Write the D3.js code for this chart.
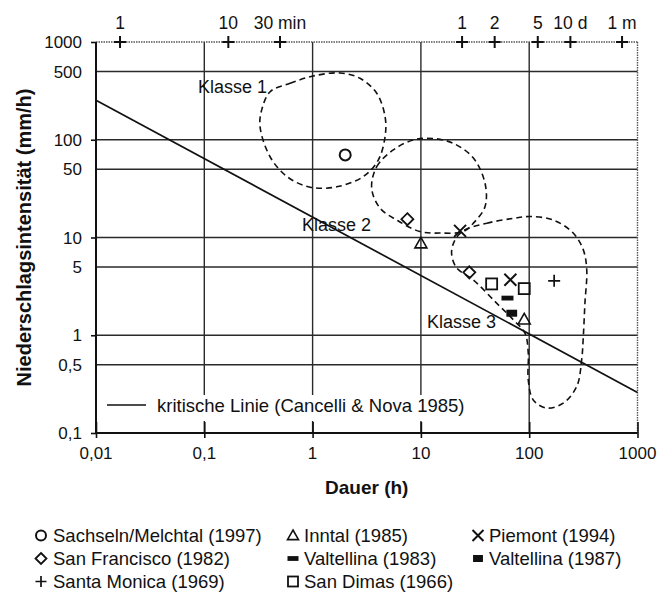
<!DOCTYPE html>
<html>
<head>
<meta charset="utf-8">
<script src="https://cdn.jsdelivr.net/npm/d3@7"></script>
<style>
body { margin: 0; background: #fff; }
svg { display: block; font-family: "Liberation Sans", Arial, sans-serif; }
</style>
</head>
<body>
<div class="chart"></div>
<script>
// Achsen
var xTicks = [0.01, 0.1, 1, 10, 100, 1000];
var xTickLabels = ["0,01", "0,1", "1", "10", "100", "1000"];
var yTicks = [0.1, 0.5, 1, 5, 10, 50, 100, 500, 1000];
var yTickLabels = ["0,1", "0,5", "1", "5", "10", "50", "100", "500", "1000"];
var yMajor = [0.1, 1, 10, 100, 1000];
var xGrid = [0.1, 1, 10, 100];
var yGrid = [0.5, 1, 5, 10, 50, 100, 500];
var topTicks = [1/60, 10/60, 0.5, 24, 48, 120, 240, 720];
var topLabels = ["1", "10", "30 min", "1", "2", "5", "10 d", "1 m"];

// kritische Linie (Cancelli & Nova 1985)
var critDuration = [0.01, 1000];
var critIntensity = [254, 0.26];

// Klassen: Dauer (h) / Intensität (mm/h)
var klasse1D = [0.405, 0.62, 1.01, 1.79, 2.74, 3.91, 4.67, 4.67, 4.04, 2.94, 1.67, 0.95, 0.58, 0.405, 0.327, 0.339];
var klasse1I = [310, 378, 449, 482, 425, 299, 172, 108, 62, 42, 33, 32.7, 42, 67, 136, 202];
var klasse2D = [3.51, 3.91, 5.56, 8.5, 12.9, 19.9, 30.5, 39.1, 39.1, 30.5, 24.6, 15, 9.8, 5.98, 4.19];
var klasse2I = [32, 53, 78.7, 99.5, 103, 92, 65, 35.9, 20.7, 14, 11.5, 11.1, 11.5, 15.1, 20];
var klasse3D = [24.6, 40.5, 71.3, 101.7, 167, 255, 316, 340, 327, 316, 305, 275, 206, 145, 109, 98, 98, 91.4, 71.3, 50, 30.5, 21.4, 19.2, 20.6];
var klasse3I = [11.7, 14, 15.7, 16.4, 15.1, 11.1, 7.47, 4.66, 2.13, 0.97, 0.56, 0.30, 0.202, 0.18, 0.218, 0.35, 0.66, 1.05, 1.44, 2.13, 3.68, 4.89, 6.9, 9.4];
var klasseNames = ["Klasse 1", "Klasse 2", "Klasse 3"];
var klasseLabelD = [0.38, 0.80, 11.4];
var klasseLabelI = [301, 11.7, 1.19];

// Ereignisse
var events = ["Sachseln/Melchtal (1997)", "San Francisco (1982)", "Santa Monica (1969)",
              "Inntal (1985)", "Valtellina (1983)", "San Dimas (1966)",
              "Piemont (1994)", "Valtellina (1987)"];
var eventSymbols = ["circle", "diamond", "plus", "triangle", "bar", "square", "cross", "block"];
var pointEvent = [0, 1, 1, 2, 3, 3, 4, 5, 5, 6, 6, 7];
var pointD = [2, 7.5, 28, 170, 10, 90, 63, 45, 90, 23, 67, 69];
var pointI = [70, 15.4, 4.4, 3.6, 8.7, 1.45, 2.4, 3.35, 3.0, 11.7, 3.7, 1.68];

// Canvas
var width = 657, height = 598;
var plot = {left: 96, right: 637.5, top: 42, bottom: 433};
var ink = "#111";

var svg = d3.select(".chart").append("svg")
            .attr("width", width)
            .attr("height", height);

var x = d3.scaleLog().domain([0.01, 1000]).range([plot.left, plot.right]);
var y = d3.scaleLog().domain([0.1, 1000]).range([plot.bottom, plot.top]);

// Gitter
svg.selectAll(".hgrid").data(yGrid).enter().append("line")
   .attr("x1", plot.left).attr("x2", plot.right)
   .attr("y1", function(d) { return y(d); }).attr("y2", function(d) { return y(d); })
   .attr("stroke", "#2a2a2a").attr("stroke-width", 1.4);
svg.selectAll(".vgrid").data(xGrid).enter().append("line")
   .attr("y1", plot.top).attr("y2", plot.bottom)
   .attr("x1", function(d) { return x(d); }).attr("x2", function(d) { return x(d); })
   .attr("stroke", "#2a2a2a").attr("stroke-width", 1.4);

// Rahmen oben/rechts gepunktet
svg.append("line").attr("x1", plot.left).attr("x2", plot.right).attr("y1", plot.top).attr("y2", plot.top)
   .attr("stroke", "#555").attr("stroke-width", 1.4).attr("stroke-dasharray", "1.5,1");
svg.append("line").attr("x1", plot.right).attr("x2", plot.right).attr("y1", plot.top).attr("y2", plot.bottom)
   .attr("stroke", "#555").attr("stroke-width", 1.4).attr("stroke-dasharray", "1.5,1");

// Achsen
var yAxis = d3.axisLeft(y).tickValues(yMajor).tickSize(5).tickFormat("");
var xAxis = d3.axisBottom(x).tickValues(xTicks).tickSize(5).tickFormat("");
svg.append("g").attr("transform", "translate(" + plot.left + ",0)").call(yAxis)
   .call(function(g) { g.select(".domain").attr("stroke", ink).attr("stroke-width", 2).attr("d", "M0," + plot.top + "V" + plot.bottom); g.selectAll("line").attr("stroke", ink).attr("stroke-width", 1.6); });
svg.append("g").attr("transform", "translate(0," + plot.bottom + ")").call(xAxis)
   .call(function(g) { g.select(".domain").attr("stroke", ink).attr("stroke-width", 2).attr("d", "M" + plot.left + ",0H" + plot.right); g.selectAll("line").attr("stroke", ink).attr("stroke-width", 1.6).attr("y1", -11); });

svg.selectAll(".ylab").data(yTicks).enter().append("text")
   .attr("x", 82).attr("y", function(d) { return y(d); }).attr("dy", "0.36em")
   .attr("text-anchor", "end").attr("font-size", 17).attr("fill", ink)
   .text(function(d, i) { return yTickLabels[i]; });
svg.selectAll(".xlab").data(xTicks).enter().append("text")
   .attr("x", function(d) { return x(d); }).attr("y", 459)
   .attr("text-anchor", "middle").attr("font-size", 17).attr("fill", ink)
   .text(function(d, i) { return xTickLabels[i]; });

// obere Zeitskala
svg.selectAll(".topmark").data(topTicks).enter().append("path")
   .attr("d", function(d) { var cx = x(d), cy = plot.top; return "M" + (cx - 6) + "," + cy + "H" + (cx + 6) + "M" + cx + "," + (cy - 6) + "V" + (cy + 6); })
   .attr("stroke", ink).attr("stroke-width", 2).attr("fill", "none");
svg.selectAll(".toplab").data(topTicks).enter().append("text")
   .attr("x", function(d) { return x(d); }).attr("y", 29)
   .attr("text-anchor", "middle").attr("font-size", 17.5).attr("fill", ink)
   .text(function(d, i) { return topLabels[i]; });

// Achsentitel
svg.append("text").attr("transform", "translate(31," + ((plot.top + plot.bottom) / 2) + ") rotate(-90)")
   .attr("text-anchor", "middle").attr("font-size", 20).attr("font-weight", "bold").attr("fill", ink)
   .text("Niederschlagsintensität (mm/h)");
svg.append("text").attr("x", (plot.left + plot.right) / 2).attr("y", 494)
   .attr("text-anchor", "middle").attr("font-size", 19).attr("font-weight", "bold").attr("fill", ink)
   .text("Dauer (h)");

// Klassen-Umrisse
var contour = d3.line()
    .x(function(d) { return x(d[0]); })
    .y(function(d) { return y(d[1]); })
    .curve(d3.curveCatmullRomClosed.alpha(0.5));
[[klasse1D, klasse1I], [klasse2D, klasse2I], [klasse3D, klasse3I]].forEach(function(k) {
    svg.append("path").datum(d3.zip(k[0], k[1]))
       .attr("d", contour)
       .attr("fill", "none").attr("stroke", ink).attr("stroke-width", 1.6)
       .attr("stroke-dasharray", "6,4");
});
svg.selectAll(".klab").data(klasseNames).enter().append("text")
   .attr("x", function(d, i) { return x(klasseLabelD[i]); })
   .attr("y", function(d, i) { return y(klasseLabelI[i]); })
   .attr("text-anchor", function(d, i) { return i === 0 ? "end" : "start"; })
   .attr("font-size", 18).attr("fill", ink)
   .text(function(d) { return d; });

// kritische Linie
svg.append("line")
   .attr("x1", x(critDuration[0])).attr("y1", y(critIntensity[0]))
   .attr("x2", x(critDuration[1])).attr("y2", y(critIntensity[1]))
   .attr("stroke", ink).attr("stroke-width", 1.7);

// Symbole
function drawMarker(g, type, cx, cy, s) {
    var h = s / 2;
    if (type === "circle") {
        g.append("circle").attr("cx", cx).attr("cy", cy).attr("r", h - 0.5)
         .attr("fill", "none").attr("stroke", ink).attr("stroke-width", 2);
    } else if (type === "diamond") {
        g.append("path").attr("d", "M" + cx + "," + (cy - h) + "L" + (cx + h) + "," + cy + "L" + cx + "," + (cy + h) + "L" + (cx - h) + "," + cy + "Z")
         .attr("fill", "none").attr("stroke", ink).attr("stroke-width", 1.8);
    } else if (type === "triangle") {
        g.append("path").attr("d", "M" + cx + "," + (cy - h) + "L" + (cx + h) + "," + (cy + h * 0.75) + "L" + (cx - h) + "," + (cy + h * 0.75) + "Z")
         .attr("fill", "none").attr("stroke", ink).attr("stroke-width", 1.6);
    } else if (type === "square") {
        g.append("rect").attr("x", cx - h + 0.5).attr("y", cy - h + 0.5).attr("width", s - 1).attr("height", s - 1)
         .attr("fill", "none").attr("stroke", ink).attr("stroke-width", 1.8);
    } else if (type === "cross") {
        g.append("path").attr("d", "M" + (cx - h) + "," + (cy - h) + "L" + (cx + h) + "," + (cy + h) + "M" + (cx + h) + "," + (cy - h) + "L" + (cx - h) + "," + (cy + h))
         .attr("stroke", ink).attr("stroke-width", 2);
    } else if (type === "plus") {
        g.append("path").attr("d", "M" + (cx - h) + "," + cy + "H" + (cx + h) + "M" + cx + "," + (cy - h) + "V" + (cy + h))
         .attr("stroke", ink).attr("stroke-width", 1.7);
    } else if (type === "bar") {
        g.append("rect").attr("x", cx - h).attr("y", cy - 2.4).attr("width", s).attr("height", 4.8).attr("fill", ink);
    } else if (type === "block") {
        g.append("rect").attr("x", cx - h * 0.9).attr("y", cy - 3.5).attr("width", s * 0.9).attr("height", 7).attr("fill", ink);
    }
}

var marks = svg.append("g");
pointD.forEach(function(d, i) {
    drawMarker(marks, eventSymbols[pointEvent[i]], x(d), y(pointI[i]), 12);
});

// Legende im Diagramm
svg.append("rect").attr("x", plot.left + 4).attr("y", 395).attr("width", 382).attr("height", 26).attr("fill", "#fff");
svg.append("line").attr("x1", 107).attr("x2", 146).attr("y1", 405).attr("y2", 405).attr("stroke", ink).attr("stroke-width", 1.7);
svg.append("text").attr("x", 157).attr("y", 411.5).attr("font-size", 18.5).attr("fill", ink)
   .text("kritische Linie (Cancelli & Nova 1985)");

// Legende unten
var colMarker = [41, 293, 478];
var colText = [53, 304, 489];
var rowY = [542, 565, 588];
events.forEach(function(name, i) {
    var c = Math.floor(i / 3), r = i % 3;
    drawMarker(svg, eventSymbols[i], colMarker[c], rowY[r] - 6.5, 11);
    svg.append("text").attr("x", colText[c]).attr("y", rowY[r])
       .attr("font-size", 18.5).attr("fill", ink).text(name);
});
</script>
</body>
</html>
